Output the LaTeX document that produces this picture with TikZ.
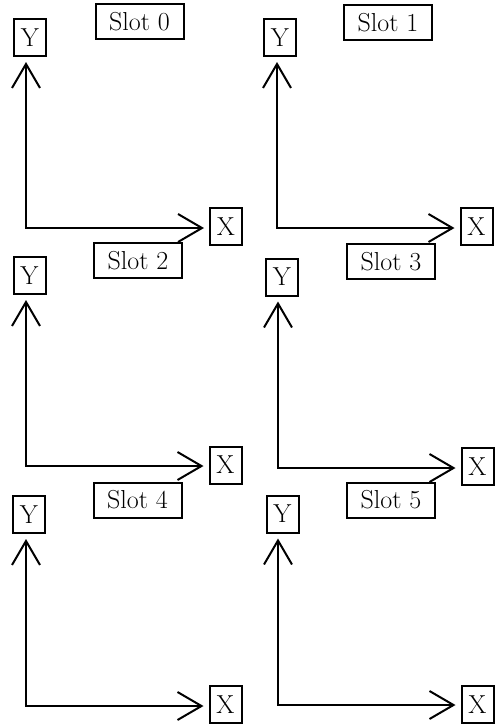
\documentclass[tikz,border=0pt]{standalone}
\usetikzlibrary{arrows.meta}
\begin{document}
\begin{tikzpicture}[x=1pt,y=-1pt,
  labelbox/.style={draw, line width=2pt, inner sep=0pt,
    font=\fontsize{26}{30}\selectfont},
  slotbox/.style={labelbox, minimum width=88pt, minimum height=35pt},
  axisbox/.style={labelbox, minimum width=32pt, minimum height=37pt},
  axes/.style={line width=2pt,
    {Straight Barb[length=24pt,width=28pt,line width=2pt]}-{Straight Barb[length=24pt,width=28pt,line width=2pt]},
    shorten <=5pt, shorten >=5pt}]
\useasboundingbox (0,0) rectangle (495,726);
% one panel per slot: title box, Y box, origin of the axes, X box
\foreach \n/\sx/\sy/\yx/\yy/\ox/\oy/\xx/\xy in {
  0/139.5/21.5/30/37.5/26/228/226/226.5,
  1/388/22.5/280/37.5/277/228/476.5/226.5,
  2/138/260.5/29.5/275.5/26/466/225.5/465,
  3/391/261.5/282/277/278/468/477.5/466.5,
  4/137.5/500/29/514.5/26/706/225.5/704.5,
  5/391/500/282.5/514/278/705/477.5/704.5}{
  \node[slotbox] (s\n) at (\sx,\sy) {Slot \n};
  \node[axisbox] (y\n) at (\yx,\yy) {Y};
  \node[axisbox] (x\n) at (\xx,\xy) {X};
  \coordinate (o\n) at (\ox,\oy);
  \draw[axes] (o\n |- y\n.south) -- (o\n) -- (o\n -| x\n.west);
}
\end{tikzpicture}
\end{document}
